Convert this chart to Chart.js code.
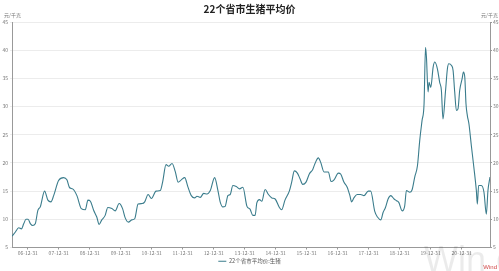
<!DOCTYPE html>
<html>
<head>
<meta charset="utf-8">
<script src="https://cdn.jsdelivr.net/npm/chart.js@4.4.0/dist/chart.umd.min.js"></script>
<style>
html,body{margin:0;padding:0;background:#fff}
</style>
</head>
<body>
<canvas id="chart" width="499" height="271"></canvas>
<script>
// 22个省市生猪平均价 (元/千克)
var dates = [
  "2006-06-29","2006-08-08","2006-09-16","2006-10-18","2006-11-14","2006-12-11","2007-01-04","2007-02-02","2007-02-28","2007-03-30",
  "2007-04-30","2007-05-28","2007-07-18","2007-08-26","2007-10-01","2007-11-02","2007-12-30","2008-02-27","2008-04-06","2008-05-08",
  "2008-06-12","2008-08-02","2008-09-23","2008-11-09","2008-12-10","2009-01-08","2009-02-15","2009-03-24","2009-04-21","2009-05-22",
  "2009-07-01","2009-08-01","2009-09-18","2009-10-27","2009-12-13","2010-01-22","2010-02-21","2010-04-01","2010-05-10","2010-06-14",
  "2010-07-24","2010-09-10","2010-10-10","2010-11-19","2010-12-28","2011-02-21","2011-04-12","2011-05-09","2011-06-18","2011-07-19",
  "2011-08-28","2011-10-06","2011-11-07","2011-12-15","2012-01-24","2012-03-03","2012-04-11","2012-05-20","2012-06-17","2012-07-26",
  "2012-09-04","2012-10-13","2012-11-21","2013-01-11","2013-02-19","2013-03-17","2013-04-18","2013-05-15","2013-06-16","2013-07-13",
  "2013-08-14","2013-09-23","2013-11-01","2013-12-10","2014-01-27","2014-03-04","2014-04-06","2014-05-03","2014-05-23","2014-06-23",
  "2014-07-21","2014-08-29","2014-10-07","2014-11-16","2014-12-25","2015-02-13","2015-03-12","2015-04-20","2015-06-10","2015-07-08",
  "2015-08-08","2015-09-13","2015-10-14","2015-11-15","2015-12-24","2016-02-02","2016-03-11","2016-04-08","2016-05-17","2016-06-14",
  "2016-07-23","2016-09-12","2016-10-14","2016-11-18","2017-01-08","2017-02-06","2017-03-14","2017-04-22","2017-05-24","2017-06-13",
  "2017-07-10","2017-08-18","2017-09-27","2017-11-06","2017-12-26","2018-01-24","2018-03-13","2018-04-14","2018-05-23","2018-06-19",
  "2018-07-17","2018-08-17","2018-09-18","2018-10-27","2018-11-24","2018-12-21","2019-01-30","2019-03-01","2019-03-21","2019-04-29",
  "2019-05-26","2019-06-27","2019-07-29","2019-08-25","2019-09-21","2019-10-15","2019-11-01","2019-11-12","2019-12-01","2019-12-13",
  "2020-01-02","2020-01-30","2020-02-18","2020-03-20","2020-04-16","2020-05-06","2020-05-25","2020-06-23","2020-07-16","2020-08-01",
  "2020-09-02","2020-09-21","2020-10-10","2020-10-30","2020-11-18","2020-12-08","2021-01-05","2021-01-21","2021-02-06","2021-02-20",
  "2021-03-08","2021-03-27","2021-04-24","2021-05-24","2021-06-22","2021-07-04","2021-07-19","2021-08-20","2021-09-20","2021-10-18",
  "2021-11-06","2021-11-30"
];
var prices = [
  7.0,7.75,8.5,8.3,9.2,10.0,10.0,9.2,8.9,9.2,
  11.6,12.2,15.0,13.4,13.1,14.2,16.9,17.4,17.0,15.6,
  15.4,14.2,11.9,11.7,13.4,13.2,11.6,10.4,9.1,9.9,
  10.7,12.1,11.9,11.5,12.8,11.9,10.3,9.5,9.9,10.1,
  12.7,12.8,13.1,14.4,13.7,15.0,15.1,16.6,19.7,19.4,
  19.9,18.4,16.6,17.0,17.4,15.7,14.2,13.8,14.1,13.9,
  14.6,14.5,15.1,17.4,15.1,13.1,12.2,12.3,14.2,14.4,
  16.0,15.8,15.4,15.7,12.3,11.8,10.7,10.7,12.9,13.5,
  13.2,15.3,14.4,13.8,13.6,12.1,11.7,13.4,15.0,16.6,
  18.6,18.2,17.2,16.2,16.6,18.1,18.8,19.9,20.9,20.1,
  18.4,18.4,16.7,17.0,18.2,18.0,16.6,15.7,14.2,13.1,
  13.8,14.4,14.4,14.2,15.0,15.0,11.4,10.4,9.9,11.2,
  12.1,13.6,14.2,13.6,13.3,13.0,11.5,12.4,15.1,14.8,
  15.2,17.5,19.5,24.0,27.5,30.5,40.5,38.8,32.6,34.3,
  33.4,37.0,37.9,36.7,34.3,32.9,27.8,32.6,36.7,37.6,
  37.3,36.4,32.6,29.3,29.6,32.9,34.9,36.1,35.2,30.5,
  28.4,26.9,23.1,19.2,15.1,12.7,16.0,16.0,14.8,10.9,
  15.1,17.5
];
var tickLabels = ["06-12-31","07-12-31","08-12-31","09-12-31","10-12-31","11-12-31","12-12-31",
  "13-12-31","14-12-31","15-12-31","16-12-31","17-12-31","18-12-31","19-12-31","20-12-31"];
var seriesName = "22个省市平均价:生猪";
var unitLabel = "元/千克";

function day(s){ return Date.parse(s) / 86400000; }

var points = [];
for(var i = 0; i < dates.length; i++){
    points.push({x: day(dates[i]), y: prices[i]});
}
var font = '"Noto Sans CJK SC", "Noto Sans", sans-serif';
var tickFont = {size: 5, family: font};

// unit labels and the Wind marks
var extras = {
    id: 'extras',
    afterDraw: function(chart){
        var ctx = chart.ctx;
        ctx.save();
        ctx.font = '5px ' + font;
        ctx.fillStyle = '#777';
        ctx.textBaseline = 'middle';
        ctx.textAlign = 'left';
        ctx.fillText(unitLabel, 4, 15);
        ctx.textAlign = 'right';
        ctx.fillText(unitLabel, 498, 15);
        ctx.font = '36px "Liberation Sans", sans-serif';
        ctx.fillStyle = 'rgba(0,0,0,0.08)';
        ctx.textAlign = 'left';
        ctx.textBaseline = 'alphabetic';
        ctx.fillText('Win d', 424, 272);
        ctx.font = '6px "Liberation Sans", sans-serif';
        ctx.fillStyle = '#d04545';
        ctx.textAlign = 'right';
        ctx.fillText('Wind', 497, 269);
        ctx.restore();
    }
};

var chart = new Chart(document.getElementById('chart'), {
    type: 'line',
    data: {
        datasets: [{
            label: seriesName,
            data: points,
            borderColor: '#3a7c8c',
            backgroundColor: '#3a7c8c',
            borderWidth: 1.1,
            pointRadius: 0,
            cubicInterpolationMode: 'monotone',
            yAxisID: 'y'
        }]
    },
    options: {
        responsive: false,
        animation: false,
        devicePixelRatio: 1,
        layout: {padding: {top: 0, left: 0, right: 0, bottom: -3}},
        scales: {
            x: {
                type: 'linear',
                min: day(dates[0]),
                max: day(dates[dates.length - 1]),
                afterBuildTicks: function(scale){
                    scale.ticks = tickLabels.map(function(t){ return {value: day('20' + t)}; });
                },
                afterFit: function(scale){ scale.height = 10; },
                ticks: {
                    autoSkip: false, maxRotation: 0, padding: 1, color: '#777', font: tickFont,
                    callback: function(v, i){ return tickLabels[i]; }
                },
                grid: {drawOnChartArea: false, tickLength: 2, color: '#999'},
                border: {color: '#999'}
            },
            y: {
                position: 'left',
                min: 5, max: 45,
                afterFit: function(scale){ scale.width = 12; },
                ticks: {stepSize: 5, padding: 2, color: '#777', font: tickFont},
                grid: {color: '#ececec', tickLength: 2},
                border: {color: '#999'}
            },
            y2: {
                position: 'right',
                min: 5, max: 45,
                afterFit: function(scale){ scale.width = 9; },
                ticks: {stepSize: 5, padding: 1, color: '#777', font: tickFont},
                grid: {drawOnChartArea: false, tickLength: 2, color: '#999'},
                border: {color: '#999'}
            }
        },
        plugins: {
            title: {
                display: true,
                text: '22个省市生猪平均价',
                color: '#222',
                font: {size: 10, weight: 'bold', family: font},
                padding: {top: 3, bottom: 7}
            },
            legend: {
                position: 'bottom',
                labels: {
                    usePointStyle: true, pointStyle: 'line', pointStyleWidth: 8,
                    padding: 1, color: '#555', font: {size: 5.5, family: font}
                }
            },
            tooltip: {enabled: false}
        }
    },
    plugins: [extras]
});
</script>
</body>
</html>
